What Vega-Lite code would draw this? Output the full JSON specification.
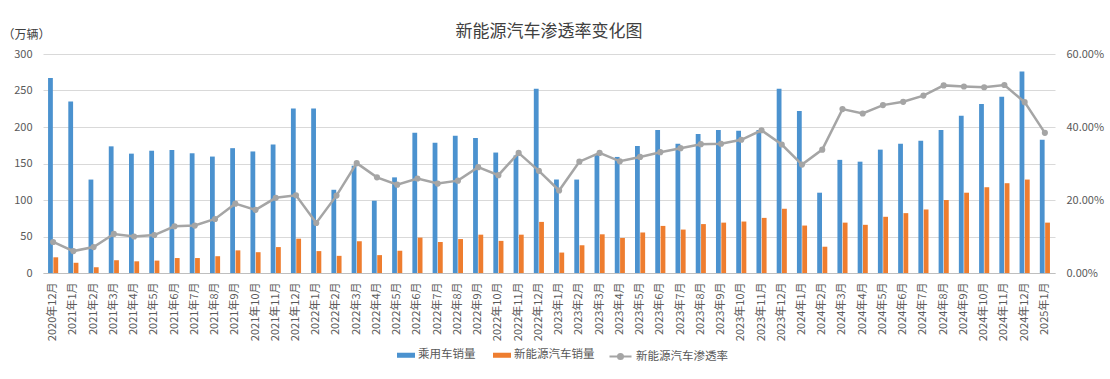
{
  "$schema": "https://vega.github.io/schema/vega-lite/v6.json",
  "width": 1012,
  "height": 219,
  "autosize": {"type": "none"},
  "padding": {"left": 43, "top": 54, "right": 55, "bottom": 106},
  "background": "white",
  "config": {
    "font": "Noto Sans CJK SC",
    "view": {"stroke": null},
    "legend": {"padding": 0}
  },
  "title": {
    "text": "新能源汽车渗透率变化图",
    "fontSize": 17,
    "fontWeight": "normal",
    "color": "#404040",
    "anchor": "middle",
    "offset": 8,
    "dy": 21
  },
  "data": {
    "values": [
      {"月份": "2020年12月", "乘用车销量": 267, "新能源汽车销量": 21.5, "渗透率": 0.085},
      {"月份": "2021年1月", "乘用车销量": 235, "新能源汽车销量": 14, "渗透率": 0.060},
      {"月份": "2021年2月", "乘用车销量": 128, "新能源汽车销量": 8, "渗透率": 0.071},
      {"月份": "2021年3月", "乘用车销量": 173.5, "新能源汽车销量": 17.5, "渗透率": 0.107},
      {"月份": "2021年4月", "乘用车销量": 163.5, "新能源汽车销量": 16, "渗透率": 0.100},
      {"月份": "2021年5月", "乘用车销量": 167.5, "新能源汽车销量": 17, "渗透率": 0.104},
      {"月份": "2021年6月", "乘用车销量": 168.5, "新能源汽车销量": 20.5, "渗透率": 0.128},
      {"月份": "2021年7月", "乘用车销量": 164, "新能源汽车销量": 20.5, "渗透率": 0.130},
      {"月份": "2021年8月", "乘用车销量": 159.5, "新能源汽车销量": 23, "渗透率": 0.148},
      {"月份": "2021年9月", "乘用车销量": 171, "新能源汽车销量": 31, "渗透率": 0.190},
      {"月份": "2021年10月", "乘用车销量": 166.5, "新能源汽车销量": 28.5, "渗透率": 0.173},
      {"月份": "2021年11月", "乘用车销量": 176, "新能源汽车销量": 35.5, "渗透率": 0.206},
      {"月份": "2021年12月", "乘用车销量": 225.5, "新能源汽车销量": 47, "渗透率": 0.213},
      {"月份": "2022年1月", "乘用车销量": 225.5, "新能源汽车销量": 30, "渗透率": 0.137},
      {"月份": "2022年2月", "乘用车销量": 114, "新能源汽车销量": 23.5, "渗透率": 0.212},
      {"月份": "2022年3月", "乘用车销量": 147, "新能源汽车销量": 43.5, "渗透率": 0.301},
      {"月份": "2022年4月", "乘用车销量": 99, "新能源汽车销量": 24.5, "渗透率": 0.262},
      {"月份": "2022年5月", "乘用车销量": 131, "新能源汽车销量": 30.5, "渗透率": 0.242},
      {"月份": "2022年6月", "乘用车销量": 192, "新能源汽车销量": 48.5, "渗透率": 0.259},
      {"月份": "2022年7月", "乘用车销量": 178.5, "新能源汽车销量": 42.5, "渗透率": 0.245},
      {"月份": "2022年8月", "乘用车销量": 188, "新能源汽车销量": 46.5, "渗透率": 0.253},
      {"月份": "2022年9月", "乘用车销量": 185, "新能源汽车销量": 52.5, "渗透率": 0.290},
      {"月份": "2022年10月", "乘用车销量": 165, "新能源汽车销量": 44, "渗透率": 0.268},
      {"月份": "2022年11月", "乘用车销量": 161, "新能源汽车销量": 52.5, "渗透率": 0.329},
      {"月份": "2022年12月", "乘用车销量": 252.5, "新能源汽车销量": 70, "渗透率": 0.280},
      {"月份": "2023年1月", "乘用车销量": 128, "新能源汽车销量": 28, "渗透率": 0.226},
      {"月份": "2023年2月", "乘用车销量": 128, "新能源汽车销量": 38, "渗透率": 0.305},
      {"月份": "2023年3月", "乘用车销量": 163, "新能源汽车销量": 53, "渗透率": 0.329},
      {"月份": "2023年4月", "乘用车销量": 159, "新能源汽车销量": 48, "渗透率": 0.306},
      {"月份": "2023年5月", "乘用车销量": 174, "新能源汽车销量": 55.5, "渗透率": 0.318},
      {"月份": "2023年6月", "乘用车销量": 196, "新能源汽车销量": 64.5, "渗透率": 0.331},
      {"月份": "2023年7月", "乘用车销量": 177, "新能源汽车销量": 59.5, "渗透率": 0.342},
      {"月份": "2023年8月", "乘用车销量": 190.5, "新能源汽车销量": 67, "渗透率": 0.353},
      {"月份": "2023年9月", "乘用车销量": 196, "新能源汽车销量": 69, "渗透率": 0.354},
      {"月份": "2023年10月", "乘用车销量": 195, "新能源汽车销量": 70.5, "渗透率": 0.365},
      {"月份": "2023年11月", "乘用车销量": 196, "新能源汽车销量": 75.5, "渗透率": 0.391},
      {"月份": "2023年12月", "乘用车销量": 252.5, "新能源汽车销量": 88, "渗透率": 0.352},
      {"月份": "2024年1月", "乘用车销量": 222, "新能源汽车销量": 65, "渗透率": 0.297},
      {"月份": "2024年2月", "乘用车销量": 110, "新能源汽车销量": 36, "渗透率": 0.338},
      {"月份": "2024年3月", "乘用车销量": 155, "新能源汽车销量": 69, "渗透率": 0.449},
      {"月份": "2024年4月", "乘用车销量": 152.5, "新能源汽车销量": 66, "渗透率": 0.437},
      {"月份": "2024年5月", "乘用车销量": 169, "新能源汽车销量": 77, "渗透率": 0.460},
      {"月份": "2024年6月", "乘用车销量": 177, "新能源汽车销量": 82, "渗透率": 0.469},
      {"月份": "2024年7月", "乘用车销量": 181, "新能源汽车销量": 87, "渗透率": 0.486},
      {"月份": "2024年8月", "乘用车销量": 196, "新能源汽车销量": 100, "渗透率": 0.514},
      {"月份": "2024年9月", "乘用车销量": 215.5, "新能源汽车销量": 110, "渗透率": 0.511},
      {"月份": "2024年10月", "乘用车销量": 231.5, "新能源汽车销量": 117.5, "渗透率": 0.509},
      {"月份": "2024年11月", "乘用车销量": 241.5, "新能源汽车销量": 123, "渗透率": 0.515},
      {"月份": "2024年12月", "乘用车销量": 276, "新能源汽车销量": 128, "渗透率": 0.468},
      {"月份": "2025年1月", "乘用车销量": 182.5, "新能源汽车销量": 69, "渗透率": 0.384}
    ]
  },
  "encoding": {
    "x": {
      "field": "月份",
      "type": "nominal",
      "sort": null,
      "scale": {"paddingInner": 0.5, "paddingOuter": 0.25},
      "axis": {
        "title": null,
        "labelAngle": -90,
        "labelFontSize": 11,
        "labelColor": "#595959",
        "labelPadding": 9,
        "ticks": false,
        "domainColor": "#BFBFBF",
        "domainWidth": 1,
        "grid": false
      }
    }
  },
  "layer": [
    {
      "transform": [{"fold": ["乘用车销量", "新能源汽车销量"], "as": ["系列", "销量"]}],
      "mark": {"type": "bar"},
      "encoding": {
        "xOffset": {"field": "系列", "type": "nominal", "sort": ["乘用车销量", "新能源汽车销量"], "scale": {"paddingInner": 0.1}},
        "y": {
          "field": "销量",
          "type": "quantitative",
          "scale": {"domain": [0, 300], "nice": false},
          "axis": {
            "orient": "left",
            "values": [0, 50, 100, 150, 200, 250, 300],
            "grid": true,
            "gridColor": "#D9D9D9",
            "gridWidth": 1,
            "domain": false,
            "ticks": false,
            "labelFontSize": 11,
            "labelColor": "#595959",
            "labelPadding": 11,
            "title": "（万辆）",
            "titleAngle": 0,
            "titleX": -41,
            "titleY": -20,
            "titleAlign": "left",
            "titleBaseline": "middle",
            "titleFontSize": 12,
            "titleFontWeight": "normal",
            "titleColor": "#404040"
          }
        },
        "color": {
          "field": "系列",
          "type": "nominal",
          "sort": ["乘用车销量", "新能源汽车销量"],
          "scale": {"domain": ["乘用车销量", "新能源汽车销量"], "range": ["#4B92CF", "#EE7D2F"]},
          "legend": {
            "orient": "none",
            "legendX": 354,
            "legendY": 292,
            "direction": "horizontal",
            "title": null,
            "symbolType": "M-1,-0.28H1V0.28H-1Z",
            "symbolSize": 324,
            "symbolStrokeWidth": 0,
            "labelFontSize": 11.5,
            "labelColor": "#595959",
            "labelOffset": 3,
            "columnPadding": 17
          }
        }
      }
    },
    {
      "layer": [
        {
          "mark": {"type": "line", "strokeWidth": 2.5},
          "encoding": {
            "y": {
              "field": "渗透率",
              "type": "quantitative",
              "scale": {"domain": [0, 0.6], "nice": false},
              "axis": {
                "orient": "right",
                "values": [0, 0.1, 0.2, 0.3, 0.4, 0.5, 0.6],
                "format": ".2%",
                "grid": false,
                "domain": false,
                "ticks": false,
                "labelFontSize": 11,
                "labelColor": "#595959",
                "labelPadding": 11,
                "title": null
              }
            },
            "stroke": {
              "datum": "新能源汽车渗透率",
              "type": "nominal",
              "scale": {"range": ["#A5A5A5"]},
              "legend": {
                "orient": "none",
                "legendX": 565,
                "legendY": 290,
                "title": null,
                "symbolType": "M-1,0H1M0.22,0A0.22,0.22 0 1 1 -0.22,0A0.22,0.22 0 1 1 0.22,0",
                "symbolSize": 484,
                "symbolStrokeWidth": 2.2,
                "symbolFillColor": "#A5A5A5",
                "symbolStrokeColor": "#A5A5A5",
                "labelFontSize": 11.5,
                "labelColor": "#595959",
                "labelOffset": 3
              }
            }
          }
        },
        {
          "mark": {"type": "point", "filled": true, "size": 38, "color": "#A5A5A5", "opacity": 1},
          "encoding": {
            "y": {"field": "渗透率", "type": "quantitative"}
          }
        }
      ]
    }
  ],
  "resolve": {"scale": {"y": "independent"}}
}
